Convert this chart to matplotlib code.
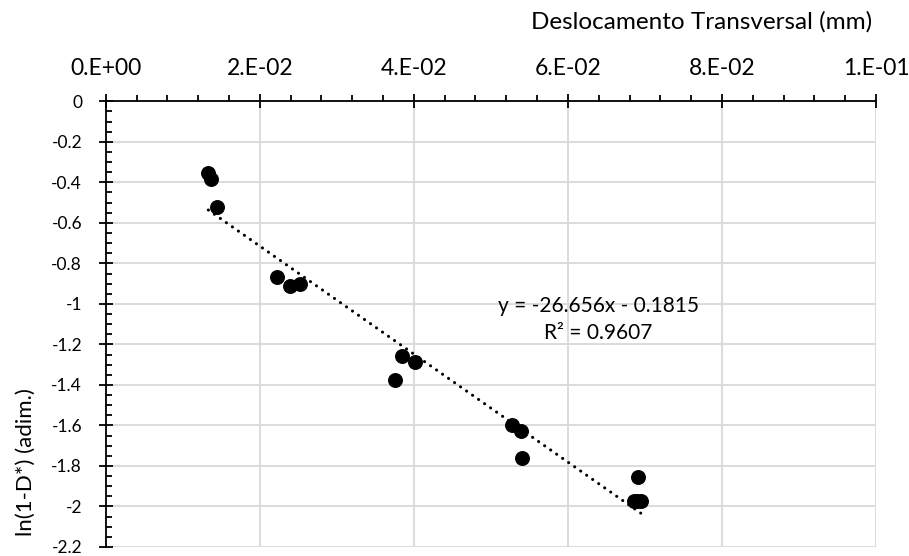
import numpy as np
import matplotlib.pyplot as plt
from matplotlib.ticker import MultipleLocator, FuncFormatter

plt.rcParams['font.family'] = ['Lato', 'DejaVu Sans']

# transverse displacement (mm) and ln(1-D*) per specimen
deslocamento = [0.01332, 0.01363, 0.01441, 0.02220, 0.02393, 0.02522,
                0.03756, 0.03843, 0.04020, 0.05279, 0.05391, 0.05400,
                0.06858, 0.06900, 0.06945, 0.06906]
ln_dano = [-0.355, -0.385, -0.520, -0.868, -0.911, -0.901,
           -1.375, -1.255, -1.288, -1.600, -1.625, -1.760,
           -1.973, -1.975, -1.973, -1.853]

# linear trendline
slope = -26.656
intercept = -0.1815
r2 = 0.9607

fig = plt.figure(figsize=(9.09, 5.56), dpi=100)
ax = fig.add_axes([0.1163, 0.0162, 0.8474, 0.8016])

ax.set_xlim(0, 0.1)
ax.set_ylim(-2.2, 0)

ax.xaxis.tick_top()
ax.xaxis.set_major_locator(MultipleLocator(0.02))
ax.xaxis.set_minor_locator(MultipleLocator(0.004))
ax.yaxis.set_major_locator(MultipleLocator(0.2))
ax.yaxis.set_minor_locator(MultipleLocator(0.05))


def sci_fmt(v, pos):
    m, e = f"{v:.0E}".split("E")
    return f"{m}.E{int(e):+03d}"


def y_fmt(v, pos):
    s = f"{v:.1f}".rstrip("0").rstrip(".")
    return "0" if s in ("-0", "0") else s


ax.xaxis.set_major_formatter(FuncFormatter(sci_fmt))
ax.yaxis.set_major_formatter(FuncFormatter(y_fmt))

ax.tick_params(axis='x', which='major', direction='inout', length=10, width=1.3,
               labelsize=16.5, pad=11, top=True, bottom=False)
ax.tick_params(axis='x', which='minor', direction='out', length=4.5, width=1.3,
               top=True, bottom=False)
ax.tick_params(axis='y', which='major', direction='inout', length=10, width=1.3,
               labelsize=12.5, pad=12)
ax.tick_params(axis='y', which='minor', direction='in', length=4.5, width=1.3)

for side in ['bottom', 'right']:
    ax.spines[side].set_visible(False)
ax.spines['top'].set_linewidth(1.3)
ax.spines['left'].set_linewidth(1.3)

ax.grid(True, which='major', color='#d9d9d9', linewidth=1.3)
ax.set_axisbelow(True)

ax.scatter(deslocamento, ln_dano, s=95, color='black', zorder=3, clip_on=False)

xt = np.array([min(deslocamento), max(deslocamento)])
ax.plot(xt, slope * xt + intercept, color='black', linewidth=2.2,
        linestyle=(0, (0.05, 2.35)), dash_capstyle='round', zorder=2)

ax.text(0.0770, -1.079, f"y = {slope}x - {abs(intercept)}\nR² = {r2}",
        ha='right', va='center', multialignment='center',
        fontsize=15, linespacing=1.45)

ax.xaxis.set_label_position('top')
ax.set_xlabel("Deslocamento Transversal (mm)", fontsize=17.5, ha='right')
ax.xaxis.label.set_va('center')
ax.xaxis.set_label_coords(0.995, 1.178)
fig.text(26 / 909, 1 - 462 / 556, "ln(1-D*) (adim.)", rotation=90,
         ha='center', va='center', fontsize=16)

fig.savefig("out.png", dpi=100)
